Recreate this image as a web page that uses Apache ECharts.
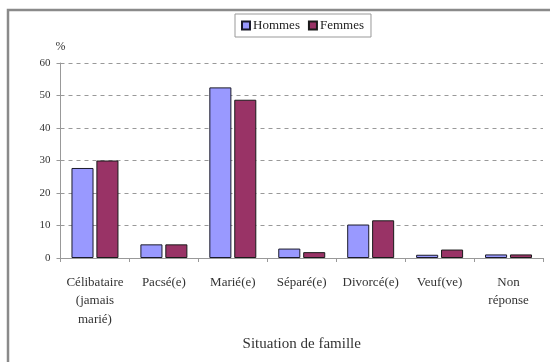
<!DOCTYPE html>
<html>
<head>
<meta charset="utf-8">
<script src="https://cdn.jsdelivr.net/npm/echarts@6/dist/echarts.min.js"></script>
<style>
  html, body { margin: 0; padding: 0; background: #fff; }
  #chart { width: 550px; height: 362px; }
</style>
</head>
<body>
<div id="chart"></div>
<script>
// Situation de famille, répartition en % par sexe
var categories = ['Célibataire\n(jamais\nmarié)', 'Pacsé(e)', 'Marié(e)', 'Séparé(e)', 'Divorcé(e)', 'Veuf(ve)', 'Non\nréponse'];
var hommes = [27.7, 4.2, 52.5, 2.9, 10.3, 1.0, 1.1];
var femmes = [30.0, 4.2, 48.7, 1.8, 11.6, 2.6, 1.1];
var yTicks = { min: 0, max: 60, interval: 10 };

var serif = '"Liberation Serif", "DejaVu Serif", serif';
var chart = echarts.init(document.getElementById('chart'), null, { renderer: 'canvas' });

chart.setOption({
  backgroundColor: '#fff',
  animation: false,
  textStyle: { fontFamily: serif },
  graphic: [{
    type: 'rect',
    shape: { x: 8, y: 10, width: 560, height: 380 },
    style: { fill: 'none', stroke: '#8a8a8a', lineWidth: 2.5 },
    silent: true
  }],
  legend: {
    left: 235,
    top: 14,
    padding: [5, 7, 5, 6],
    itemWidth: 8,
    itemHeight: 8,
    itemGap: 8,
    borderColor: '#999',
    borderWidth: 1,
    icon: 'rect',
    textStyle: { fontFamily: serif, fontSize: 13, color: '#222', padding: [0, 0, 0, -2] },
    data: ['Hommes', 'Femmes']
  },
  grid: { left: 60.5, right: 7, top: 63, bottom: 104, containLabel: false },
  xAxis: {
    type: 'category',
    data: categories,
    boundaryGap: true,
    axisLine: { lineStyle: { color: '#999', width: 1 } },
    axisTick: { show: true, length: 4, lineStyle: { color: '#999' } },
    axisLabel: {
      interval: 0,
      margin: 15,
      fontFamily: serif,
      fontSize: 13,
      lineHeight: 18.5,
      color: '#333'
    },
    name: 'Situation de famille',
    nameLocation: 'middle',
    nameGap: 79,
    nameTextStyle: { fontFamily: serif, fontSize: 15, color: '#333' }
  },
  yAxis: {
    type: 'value',
    min: yTicks.min,
    max: yTicks.max,
    interval: yTicks.interval,
    name: '%',
    nameLocation: 'end',
    nameGap: 10,
    nameTextStyle: { fontFamily: serif, fontSize: 12, color: '#333', align: 'center' },
    axisLine: { show: true, lineStyle: { color: '#999', width: 1 } },
    axisTick: { show: true, length: 4, lineStyle: { color: '#999' } },
    axisLabel: { margin: 10, fontFamily: serif, fontSize: 11, color: '#333' },
    splitLine: { show: true, lineStyle: { color: '#999', type: [4, 4], width: 1 } }
  },
  series: [{
    name: 'Hommes',
    type: 'bar',
    data: hommes,
    barWidth: '32%',
    barGap: '13%',
    itemStyle: { color: '#9999ff', borderColor: '#1a1a2a', borderWidth: 1 }
  }, {
    name: 'Femmes',
    type: 'bar',
    data: femmes,
    barWidth: '32%',
    barGap: '13%',
    itemStyle: { color: '#993366', borderColor: '#1a1a1a', borderWidth: 1 }
  }]
});
</script>
</body>
</html>
